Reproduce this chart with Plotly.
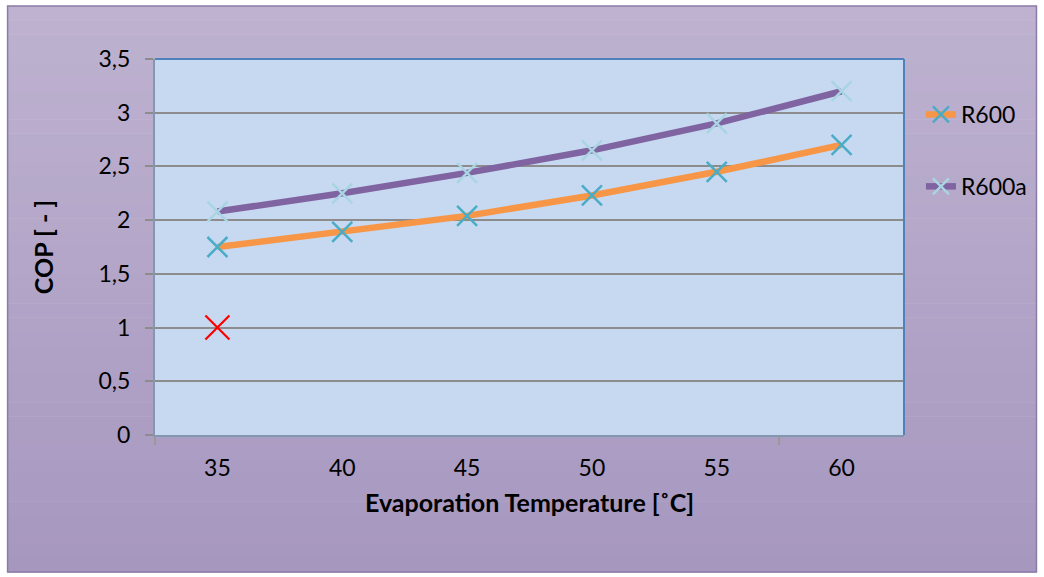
import plotly.graph_objects as go

# ---- data ----
temps = [35, 40, 45, 50, 55, 60]
cop_r600 = [1.75, 1.89, 2.04, 2.23, 2.45, 2.70]
cop_r600a = [2.08, 2.25, 2.44, 2.65, 2.90, 3.20]
stray_x = [35]
stray_y = [1.0]
x_ticklabels = ["35", "40", "45", "50", "55", "60"]

FONT = "Lato"
TICK_SIZE = 23
TITLE_SIZE = 25
W, H = 1044, 577
L, R, T, B = 155, 907, 59, 435  # plot area in px

fig = go.Figure()

fig.add_trace(go.Scatter(
    x=temps, y=cop_r600, name="R600", mode="lines+markers",
    line=dict(color="#F79646", width=6.5),
    marker=dict(symbol="x-thin", size=20, color="#4BACC6",
                line=dict(color="#4BACC6", width=2.5)),
    legendgroup="a",
))
fig.add_trace(go.Scatter(
    x=temps, y=cop_r600a, name="R600a", mode="lines+markers",
    line=dict(color="#8064A2", width=6.5),
    marker=dict(symbol="x-thin", size=20, color="#A9D5E2",
                line=dict(color="#A9D5E2", width=2.5)),
    legendgroup="b",
))
fig.add_trace(go.Scatter(
    x=stray_x, y=stray_y, mode="markers", showlegend=False,
    marker=dict(symbol="x-thin", size=24, color="#FF0000",
                line=dict(color="#FF0000", width=2.2)),
))

# ---- background styling ----
def px2paper_x(px):
    return (px - L) / (R - L)

def px2paper_y(py):
    return (B - py) / (B - T)

shapes = []
top_c = (190, 178, 208)
bot_c = (166, 151, 191)
ox0, ox1, oy0, oy1 = 7, 1040, 6, 572
n = 40
for i in range(n):
    f = (i + 0.5) / n
    c = tuple(int(round(top_c[k] + (bot_c[k] - top_c[k]) * f)) for k in range(3))
    ya = oy0 + (oy1 - oy0) * i / n
    yb = oy0 + (oy1 - oy0) * (i + 1) / n + 0.5
    shapes.append(dict(type="rect", xref="paper", yref="paper", layer="below",
                       x0=px2paper_x(ox0), x1=px2paper_x(ox1),
                       y0=px2paper_y(yb), y1=px2paper_y(ya),
                       fillcolor="rgb(%d,%d,%d)" % c, line=dict(width=0)))
# outer border
shapes.append(dict(type="rect", xref="paper", yref="paper", layer="below",
                   x0=px2paper_x(ox0), x1=px2paper_x(ox1),
                   y0=px2paper_y(oy1), y1=px2paper_y(oy0),
                   fillcolor="rgba(0,0,0,0)", line=dict(color="#8C7BA6", width=1.5)))
# plot area fill
shapes.append(dict(type="rect", xref="paper", yref="paper", layer="below",
                   x0=0, x1=1, y0=0, y1=1, fillcolor="#C6D9F1", line=dict(width=0)))
# plot area top/right border (blue)
shapes.append(dict(type="line", xref="paper", yref="paper", layer="above",
                   x0=0, x1=1, y0=1, y1=1, line=dict(color="#4F81BD", width=2)))
shapes.append(dict(type="line", xref="paper", yref="paper", layer="above",
                   x0=1, x1=1, y0=0, y1=1, line=dict(color="#4F81BD", width=2)))

fig.update_layout(
    width=W, height=H,
    margin=dict(l=L, r=W - R, t=T, b=H - B, pad=0),
    paper_bgcolor="white",
    plot_bgcolor="rgba(0,0,0,0)",
    separators=",.",
    font=dict(family=FONT, size=TICK_SIZE, color="black"),
    shapes=shapes,
    showlegend=True,
    legend=dict(x=px2paper_x(924), y=px2paper_y(93), xanchor="left", yanchor="top",
                bgcolor="rgba(0,0,0,0)", font=dict(family=FONT, size=TICK_SIZE),
                tracegroupgap=39, traceorder="grouped", itemwidth=30),
    xaxis=dict(
        range=[32.5, 62.5], tickmode="array", tickvals=temps, ticktext=x_ticklabels,
        ticks="", showgrid=False, zeroline=False,
        showline=True, linecolor="#8497B0", linewidth=2,
        ticklabelstandoff=11,
        minor=dict(tickmode="array", tickvals=[32.5, 57.5], ticks="outside",
                   ticklen=8, tickcolor="#999999", tickwidth=2, showgrid=False),
        title=dict(text="<b>Evaporation Temperature [˚C]</b>", standoff=15,
                   font=dict(family=FONT, size=TITLE_SIZE)),
        fixedrange=True,
    ),
    yaxis=dict(
        range=[0, 3.5], dtick=0.5, tick0=0,
        ticks="outside", ticklen=8, tickcolor="#8C8C8C", tickwidth=2,
        showgrid=True, gridcolor="#8C8C8C", gridwidth=2,
        zeroline=False, showline=True, linecolor="#8497B0", linewidth=2,
        ticklabelstandoff=10,
        title=dict(text="<b>COP [ - ]</b>", standoff=38,
                   font=dict(family=FONT, size=TITLE_SIZE)),
        fixedrange=True,
    ),
)

fig.write_html("out.html")
